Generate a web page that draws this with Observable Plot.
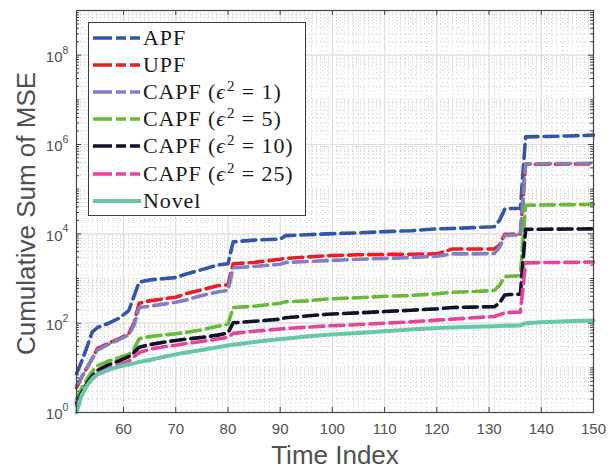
<!DOCTYPE html>
<html>
<head>
<meta charset="utf-8">
<script src="https://cdn.jsdelivr.net/npm/d3@7"></script>
<script src="https://cdn.jsdelivr.net/npm/@observablehq/plot@0.6"></script>
<style>
  html, body { margin: 0; padding: 0; background: #fff; }
  #wrap { position: relative; width: 615px; height: 471px; }
  #legend { position: absolute; left: 88px; top: 22px; width: 216px; height: 192px;
            border: 1px solid #3a3a3a; background: #fff; box-sizing: content-box;
            font-family: "Liberation Serif", "Times New Roman", serif; font-size: 22px; color: #1a1a1a; }
  .row { position: absolute; left: 0; height: 27px; display: flex; align-items: center; white-space: pre; letter-spacing: 0.9px; }
  .row svg { margin-left: 4px; margin-right: 2px; flex: none; }
  .row sup { font-size: 15px; vertical-align: 0; position: relative; top: -8px; margin-left: 1px; }
</style>
</head>
<body>
<div id="wrap"></div>
<script>
// ---------- data ----------
const timeIndex = [51, 52, 53, 54, 55, 57, 59, 61, 62, 63, 65, 68, 70, 72, 75, 78, 80, 81, 85, 90, 91, 95, 99, 105, 110, 115, 120, 123, 127, 131, 132, 133, 134, 136, 137, 140, 145, 150];

const apf   = [7.4, 14, 29, 63, 80, 98, 126, 190, 400, 830, 930, 1000, 1050, 1260, 1580, 2000, 2140, 6600, 7240, 7600, 9100, 9550, 10000, 10500, 11200, 11750, 12900, 13200, 13800, 14450, 20000, 35500, 37000, 37000, 1.48e6, 1.51e6, 1.55e6, 1.62e6];
const upf   = [3.6, 6.2, 10, 16, 27, 35, 44, 58, 100, 280, 316, 355, 380, 457, 560, 690, 720, 2140, 2290, 2690, 2820, 3020, 3240, 3390, 3460, 3500, 3550, 4570, 4570, 4600, 5600, 9800, 9800, 10000, 3.6e5, 3.62e5, 3.65e5, 3.7e5];
const capf1 = [4, 6.3, 10, 16, 25, 33, 42, 55, 89, 224, 240, 270, 295, 330, 417, 500, 537, 1740, 1860, 2090, 2290, 2400, 2510, 2690, 2820, 2950, 3160, 3550, 3550, 3630, 5000, 9100, 9300, 9500, 3.7e5, 3.72e5, 3.75e5, 3.8e5];
const capf5 = [2, 3.5, 5.6, 8.3, 11, 14, 16.6, 20, 26, 45, 50, 55, 58, 62, 71, 85, 95, 224, 240, 280, 300, 316, 347, 372, 400, 417, 457, 490, 513, 537, 700, 1100, 1120, 1150, 43600, 44200, 45000, 45700];
const capf10 = [1.6, 2.8, 4.5, 6.6, 8.7, 11.5, 14, 17.8, 22, 29, 33, 38, 41, 44, 48, 54, 60, 102, 110, 123, 132, 145, 158, 170, 182, 195, 209, 224, 229, 234, 282, 427, 437, 447, 12600, 12700, 12800, 12900];
const capf25 = [1.4, 2.5, 4, 5.8, 7.4, 9.3, 11.5, 14, 17.8, 22, 26, 30, 32, 35, 39, 44, 48, 59, 66, 74, 76, 81, 87, 93, 100, 107, 117, 123, 132, 141, 155, 170, 174, 178, 2240, 2270, 2300, 2340];
const novel = [1, 2.4, 4, 5.6, 7.1, 8.9, 10.5, 12, 12.6, 13.5, 15, 18, 20, 22, 25, 29, 31.6, 33, 38, 44, 45, 50, 55, 60, 66, 72, 78, 80, 83, 85, 86, 87, 88, 89, 100, 105, 110, 115];

const seriesNames = ["APF", "UPF", "CAPF (ϵ² = 1)", "CAPF (ϵ² = 5)", "CAPF (ϵ² = 10)", "CAPF (ϵ² = 25)", "Novel"];
const legendEps = [null, null, "1", "5", "10", "25", null];
const seriesValues = [apf, upf, capf1, capf5, capf10, capf25, novel];
const seriesColors = ["#3555a8", "#ec1c24", "#8080c2", "#66bb3a", "#101228", "#e2459b", "#66c8a6"];
const seriesDash = ["14,6", "14,6", "14,6", "14,6", "14,6", "14,6", null];

const xTicks = [60, 70, 80, 90, 100, 110, 120, 130, 140, 150];
const yLabelExps = [0, 2, 4, 6, 8];

// ---------- layout ----------
const W = 615, H = 471, ML = 76, MR = 22, MT = 10, MB = 59;
const PW = W - ML - MR, PH = H - MT - MB;

const xMinor = d3.range(52, 150).filter(v => v % 10 !== 0);
const yMajor = yLabelExps.map(e => 10 ** e);
const yMinor = [];
for (let k = 0; k <= 8; k++) for (let m = 1; m <= 9; m++) {
  const v = m * 10 ** k;
  if (!(m === 1 && k % 2 === 0)) yMinor.push(v);
}

const rows = [];
seriesValues.forEach((vals, si) => vals.forEach((v, i) => rows.push({x: timeIndex[i], y: v, s: si})));

const axisColor = "#444";
const labelColor = "#505050";

const lines = seriesValues.map((_, si) => Plot.line(rows.filter(r => r.s === si), {
  x: "x", y: "y", stroke: seriesColors[si], strokeWidth: si === 6 ? 4 : 3.6,
  strokeDasharray: seriesDash[si] || undefined, strokeLinejoin: "round", curve: "linear"
}));

const chart = Plot.plot({
  width: W, height: H,
  marginLeft: ML, marginRight: MR, marginTop: MT, marginBottom: MB,
  style: {background: "#fff", fontFamily: "'Liberation Sans', Arial, sans-serif"},
  x: {domain: [51, 150], axis: null},
  y: {type: "log", domain: [1, 1e9], axis: null},
  marks: [
    Plot.frame({fill: "#fff"}),
    // minor grid (dotted)
    Plot.gridX(xMinor, {stroke: "#cacaca", strokeOpacity: 1, strokeWidth: 1, strokeDasharray: "1,3"}),
    Plot.gridY(yMinor, {stroke: "#cacaca", strokeOpacity: 1, strokeWidth: 1, strokeDasharray: "1,3"}),
    // major grid
    Plot.gridX(xTicks, {stroke: "#dedede", strokeOpacity: 1, strokeWidth: 1.2}),
    Plot.gridY(yMajor, {stroke: "#dedede", strokeOpacity: 1, strokeWidth: 1.2}),
    // series
    ...lines,
    // frame
    Plot.frame({stroke: axisColor, strokeWidth: 1.2}),
    // inward ticks
    Plot.tickX(xTicks, {x: d => d, stroke: axisColor, insetTop: PH - 5}),
    Plot.tickX(xTicks, {x: d => d, stroke: axisColor, insetBottom: PH - 5}),
    Plot.tickY(yMajor, {y: d => d, stroke: axisColor, insetRight: PW - 5}),
    Plot.tickY(yMajor, {y: d => d, stroke: axisColor, insetLeft: PW - 5}),
    Plot.tickY(yMinor, {y: d => d, stroke: axisColor, insetRight: PW - 3}),
    Plot.tickY(yMinor, {y: d => d, stroke: axisColor, insetLeft: PW - 3}),
    // x tick labels
    Plot.axisX(xTicks, {anchor: "bottom", tickSize: 0, tickPadding: 11, fontSize: 15, fill: labelColor, label: null}),
    // y tick labels 10^k
    Plot.text(yLabelExps, {y: d => 10 ** d, frameAnchor: "left", text: () => "10", textAnchor: "end",
      dx: -14, dy: 2, fontSize: 15, fill: labelColor}),
    Plot.text(yLabelExps, {y: d => 10 ** d, frameAnchor: "left", text: d => String(d), textAnchor: "start",
      dx: -14, dy: -5, fontSize: 10.5, fill: labelColor}),
    // axis titles
    Plot.text(["Time Index"], {frameAnchor: "bottom", text: d => d, dy: 51, lineAnchor: "bottom",
      textAnchor: "middle", fontSize: 26, fill: labelColor}),
    Plot.text(["Cumulative Sum of MSE"], {frameAnchor: "left", text: d => d, rotate: -90, dx: -42, dy: 2,
      textAnchor: "middle", lineAnchor: "bottom", fontSize: 26, fill: labelColor})
  ]
});

const wrap = document.getElementById("wrap");
wrap.appendChild(chart);

// ---------- legend ----------
const legend = document.createElement("div");
legend.id = "legend";
seriesNames.forEach((name, si) => {
  const row = document.createElement("div");
  row.className = "row";
  row.style.top = (1 + si * 27.2) + "px";
  const dash = seriesDash[si] ? 'stroke-dasharray="19,4,10,4,10"' : "";
  let label;
  if (legendEps[si]) {
    label = `CAPF (<i>ϵ</i><sup>2</sup> = ${legendEps[si]})`;
  } else {
    label = name;
  }
  row.innerHTML = `<svg width="48" height="10"><line x1="0" x2="48" y1="5" y2="5" stroke="${seriesColors[si]}" stroke-width="${si === 6 ? 4 : 3.6}" ${dash}/></svg><span>${label}</span>`;
  legend.appendChild(row);
});
wrap.appendChild(legend);
</script>
</body>
</html>
